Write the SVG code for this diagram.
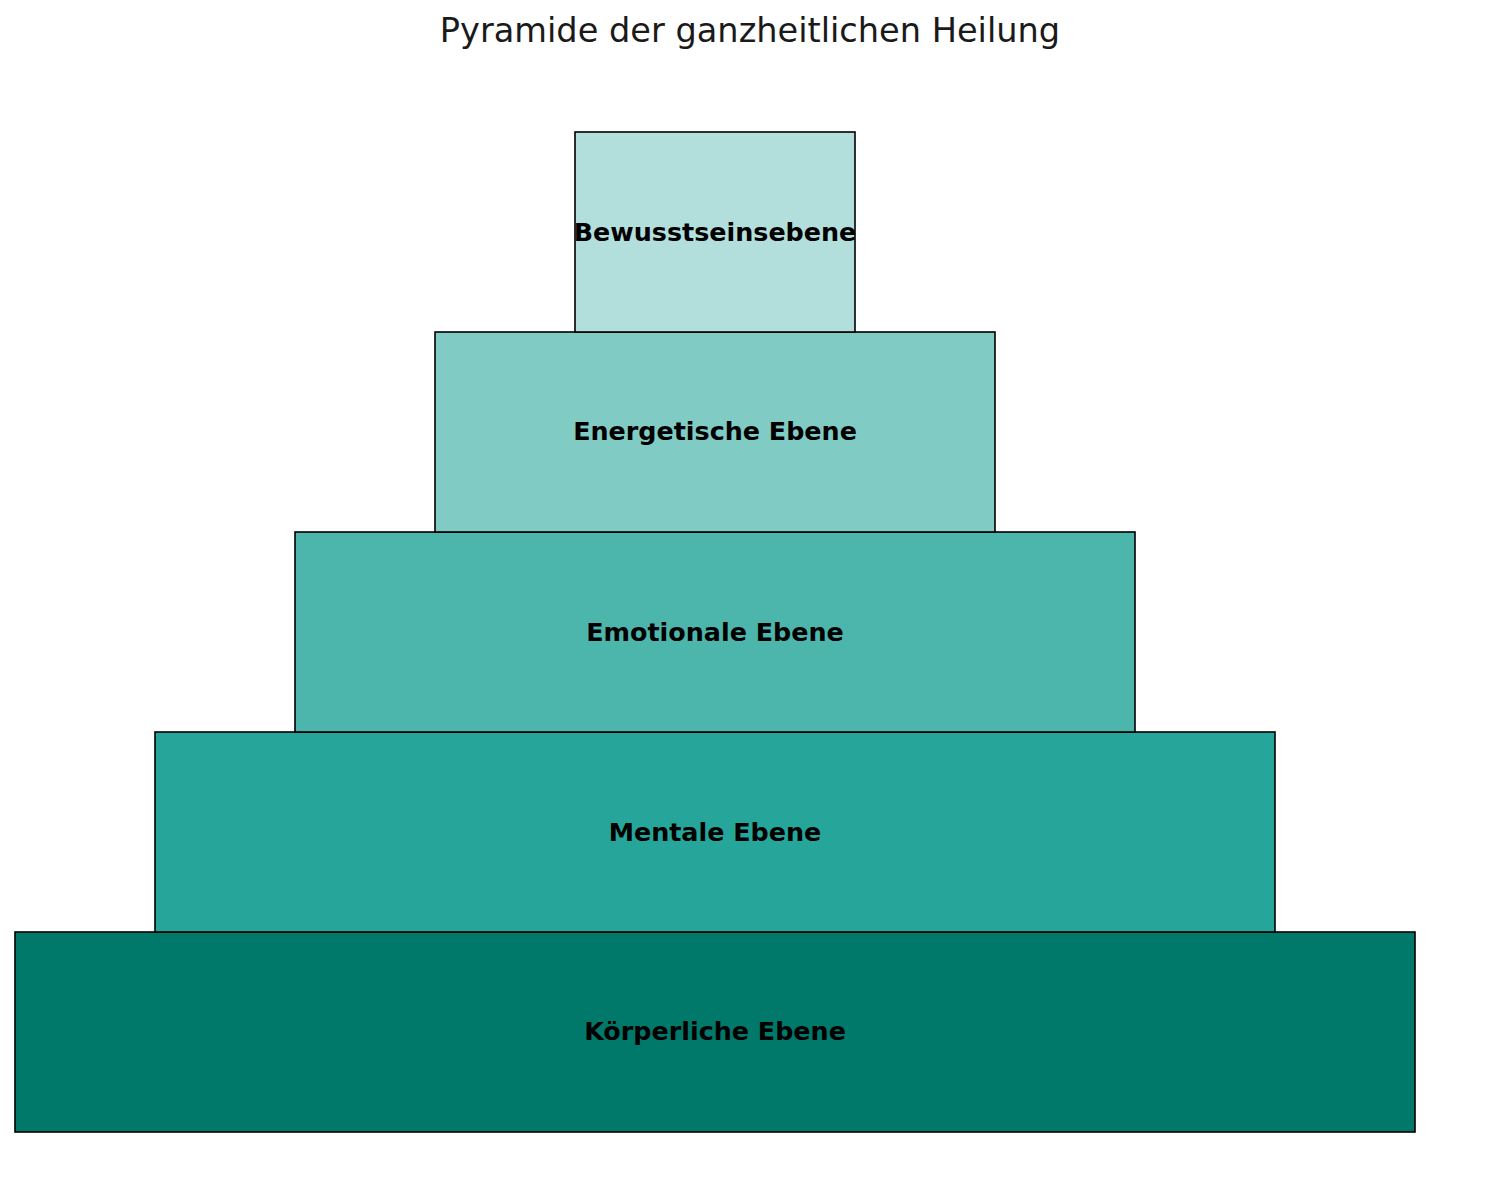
<svg xmlns="http://www.w3.org/2000/svg" width="1500" height="1197" viewBox="0 0 1500 1197">
<style>
.lvl{stroke:#000;stroke-width:1.6}
.lbl{font-family:"DejaVu Sans",sans-serif;font-weight:bold;font-size:25.4px;fill:#000;text-anchor:middle}
.title{font-family:"DejaVu Sans",sans-serif;font-size:33.6px;fill:#1a1a1a;text-anchor:middle}
</style>
<rect width="1500" height="1197" fill="#fff"/>
<text class="title" x="750" y="42">Pyramide der ganzheitlichen Heilung</text>
<g id="koerperliche">
<rect class="lvl" x="15" y="932" width="1400" height="200" fill="#00796b"/>
<text class="lbl" x="715" y="1040">Körperliche Ebene</text>
</g>
<g id="mentale">
<rect class="lvl" x="155" y="732" width="1120" height="200" fill="#26a69a"/>
<text class="lbl" x="715" y="841">Mentale Ebene</text>
</g>
<g id="emotionale">
<rect class="lvl" x="295" y="532" width="840" height="200" fill="#4db6ac"/>
<text class="lbl" x="715" y="641">Emotionale Ebene</text>
</g>
<g id="energetische">
<rect class="lvl" x="435" y="332" width="560" height="200" fill="#80cbc4"/>
<text class="lbl" x="715" y="440">Energetische Ebene</text>
</g>
<g id="bewusstsein">
<rect class="lvl" x="575" y="132" width="280" height="200" fill="#b2dfdb"/>
<text class="lbl" x="715" y="241">Bewusstseinsebene</text>
</g>
<g id="connectors"/>
</svg>
